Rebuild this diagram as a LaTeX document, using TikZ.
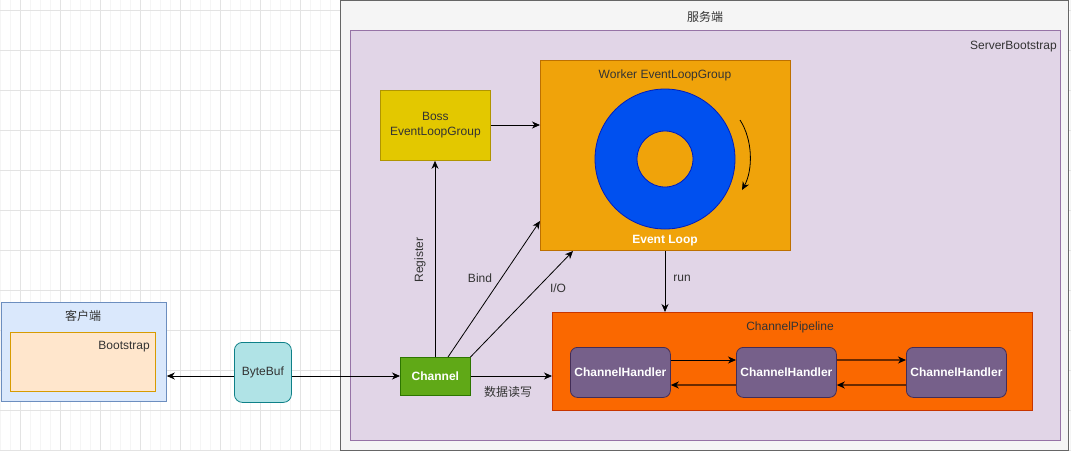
\documentclass[tikz,border=0pt]{standalone}
\usepackage{fontspec}
\setmainfont{Liberation Sans}
\newfontfamily\cjk{Noto Sans CJK SC}
\usetikzlibrary{arrows.meta}
\definecolor{gridminor}{HTML}{F5F5F5}
\definecolor{gridmajor}{HTML}{E3E3E3}
\definecolor{srvfill}{HTML}{F5F5F5}
\definecolor{srvline}{HTML}{666666}
\definecolor{sbfill}{HTML}{E1D5E7}
\definecolor{sbline}{HTML}{9673A6}
\definecolor{bossfill}{HTML}{E3C800}
\definecolor{bossline}{HTML}{B09500}
\definecolor{wkfill}{HTML}{F0A30A}
\definecolor{wkline}{HTML}{BD7000}
\definecolor{ringfill}{HTML}{0050EF}
\definecolor{ringline}{HTML}{001DBC}
\definecolor{ppfill}{HTML}{FA6800}
\definecolor{ppline}{HTML}{C73500}
\definecolor{hdfill}{HTML}{76608A}
\definecolor{hdline}{HTML}{432D57}
\definecolor{chfill}{HTML}{60A917}
\definecolor{chline}{HTML}{2D7600}
\definecolor{clfill}{HTML}{DAE8FC}
\definecolor{clline}{HTML}{6C8EBF}
\definecolor{bsfill}{HTML}{FFE6CC}
\definecolor{bsline}{HTML}{D79B00}
\definecolor{bbfill}{HTML}{B0E3E6}
\definecolor{bbline}{HTML}{0E8088}
\definecolor{txt}{HTML}{333333}
\definecolor{brown}{HTML}{6A2A00}
\tikzset{
  box/.style={draw, line width=0.8pt, inner sep=0pt, anchor=north west},
  lbl/.style={font=\fontsize{12}{14}\selectfont, text=txt, inner sep=0pt},
  whitelbl/.style={font=\fontsize{12}{14}\selectfont\bfseries, text=white, inner sep=0pt},
  conn/.style={draw=black, line width=0.8pt, -{Stealth[length=8pt,width=7pt,inset=2.5pt]}},
  bconn/.style={draw=brown, line width=1.4pt, -{Stealth[length=8pt,width=7pt,inset=2.5pt,color=black]}},
}
\begin{document}
\begin{tikzpicture}[x=1pt,y=-1pt]
\useasboundingbox (0,0) rectangle (1071,451);
% background grid
\fill[white] (0,0) rectangle (1071,451);
\draw[gridminor, line width=0.5pt] (0,0) grid[step=10] (1071,451);
\foreach \x in {20,60,...,1060} \draw[gridmajor, line width=0.6pt] (\x,0) -- (\x,451);
\foreach \y in {10,50,...,450} \draw[gridmajor, line width=0.6pt] (0,\y) -- (1071,\y);
% server
\node[box, fill=srvfill, draw=srvline, minimum width=728pt, minimum height=450pt] (srv) at (340,0) {};
\node[lbl] (srvt) at (705,17) {\cjk 服务端};
\node[box, fill=sbfill, draw=sbline, minimum width=710pt, minimum height=410pt] (sb) at (350,30) {};
\node[lbl, anchor=east] (sbt) at (1057,47) {ServerBootstrap};
% boss
\node[box, fill=bossfill, draw=bossline, minimum width=110pt, minimum height=70pt] (boss) at (380,90) {};
\node[lbl, align=center] at (boss.center) {Boss\\[1pt]EventLoopGroup};
% worker
\node[box, fill=wkfill, draw=wkline, minimum width=250pt, minimum height=190pt] (wk) at (540,60) {};
\node[lbl] (wkt) at (665,75) {Worker EventLoopGroup};
\fill[ringfill, draw=ringline, line width=0.8pt, even odd rule] (665,159) circle[radius=70] (665,159) circle[radius=28];
\node[whitelbl] (el) at (665,241) {Event Loop};
\draw[conn] (740,120) .. controls (753,140) and (753,170) .. (742,190);
% pipeline
\node[box, fill=ppfill, draw=ppline, minimum width=480pt, minimum height=98pt] (pp) at (552,312) {};
\node[lbl] (ppt) at (790,327) {ChannelPipeline};
\node[box, fill=hdfill, draw=hdline, rounded corners=7pt, minimum width=100pt, minimum height=50pt] (h1) at (570,347) {};
\node[box, fill=hdfill, draw=hdline, rounded corners=7pt, minimum width=100pt, minimum height=50pt] (h2) at (736,347) {};
\node[box, fill=hdfill, draw=hdline, rounded corners=7pt, minimum width=100pt, minimum height=50pt] (h3) at (906,347) {};
\node[whitelbl] at (h1.center) {ChannelHandler};
\node[whitelbl] at (h2.center) {ChannelHandler};
\node[whitelbl] at (h3.center) {ChannelHandler};
\draw[conn] (h1.east |- 0,360) -- (h2.west |- 0,360);
\draw[bconn] (h2.east |- 0,360) -- (h3.west |- 0,360);
\draw[bconn] (h3.west |- 0,385) -- (h2.east |- 0,385);
\draw[bconn] (h2.west |- 0,385) -- (h1.east |- 0,385);
% channel
\node[box, fill=chfill, draw=chline, minimum width=70pt, minimum height=38pt] (ch) at (400,357) {};
\node[whitelbl] at (ch.center) {Channel};
% client
\node[box, fill=clfill, draw=clline, minimum width=165pt, minimum height=99pt] (cl) at (1,302) {};
\node[lbl] (clt) at (83,316) {\cjk 客户端};
\node[box, fill=bsfill, draw=bsline, minimum width=145pt, minimum height=59pt] (bs) at (10,332) {};
\node[lbl, anchor=east] (bst) at (150,347) {Bootstrap};
% bytebuf
\node[box, fill=bbfill, draw=bbline, rounded corners=8pt, minimum width=57pt, minimum height=60pt] (bb) at (234,342) {};
\node[lbl] at (bb.center) {ByteBuf};
% connectors
\draw[conn] (bb.west |- 0,376) -- (cl.east |- 0,376);
\draw[conn] (bb.east |- 0,376) -- (ch.west |- 0,376);
\draw[conn] (ch.east |- 0,376) -- (pp.west |- 0,376);
\node[lbl] at (508,392) {\cjk 数据读写};
\draw[conn] (ch.north -| 435,0) -- (boss.south -| 435,0);
\node[lbl, rotate=90] at (420,260) {Register};
\draw[conn] (448,357) -- (540,221);
\node[lbl] at (480,278) {Bind};
\draw[conn] (470.5,357) -- (573,251);
\node[lbl] at (558,288) {I/O};
\draw[conn] (boss.east |- 0,125) -- (wk.west |- 0,125);
\draw[conn] (wk.south -| 665,0) -- (pp.north -| 665,0);
\node[lbl] at (682,278) {run};
\end{tikzpicture}
\end{document}
